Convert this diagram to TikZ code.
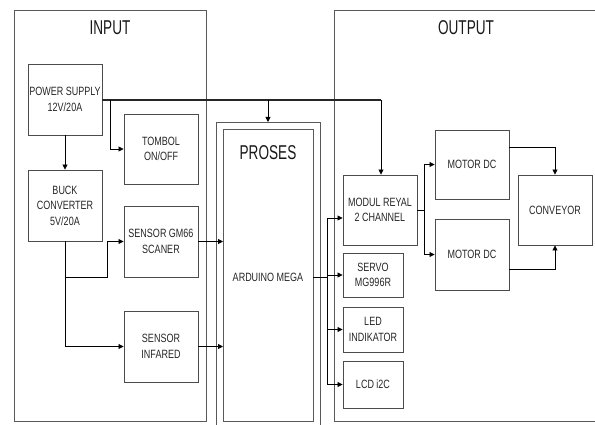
\documentclass[tikz,border=0pt]{standalone}
\usepackage{fontspec}
\setmainfont{Liberation Sans}
\newfontfamily\smallf[FakeStretch=0.75]{Liberation Sans}
\newfontfamily\titlef[FakeStretch=0.68]{Liberation Sans}
\usetikzlibrary{arrows.meta}
\begin{document}
\begin{tikzpicture}[x=1pt,y=-1pt,
  blk/.style={draw=black!70,line width=0.9pt,rectangle,inner sep=0pt,align=center,
    font=\smallf\fontsize{12}{15.5}\selectfont,text=black!85},
  frame/.style={draw=black!65,line width=0.9pt},
  ttl/.style={font=\titlef\fontsize{20}{22}\selectfont,text=black!90},
  conn/.style={draw=black,line width=0.8pt,-{Triangle[length=5pt,width=5pt]}},
  pline/.style={draw=black!85,line width=1.2pt}]
\useasboundingbox (0,0) rectangle (595,425);
% frames
\draw[frame] (14,10) rectangle (206,421);
\draw[frame] (334,10) rectangle (600,421);
\node[ttl] (tin) at (110,28) {INPUT};
\node[ttl] (tout) at (466,28) {OUTPUT};
% proses
\draw[frame] (216,432) -- (216,122) -- (320,122) -- (320,432);
\coordinate (proTop) at (268,122);
\draw[frame] (223,129) rectangle (313,421);
\node[ttl] (tpro) at (268,153) {PROSES};
\node[blk,draw=none] (ard) at (268,277) {ARDUINO MEGA};
\coordinate (ardL) at (223,277);
\coordinate (ardR) at (313,277);
% input blocks
\node[blk,minimum width=74pt,minimum height=71pt] (ps) at (65,99.5) {POWER SUPPLY\\12V/20A};
\node[blk,minimum width=74pt,minimum height=70pt] (tombol) at (161,149) {TOMBOL\\ON/OFF};
\node[blk,minimum width=74pt,minimum height=71pt] (buck) at (65,205.5) {BUCK\\CONVERTER\\5V/20A};
\node[blk,minimum width=74pt,minimum height=71pt] (gm) at (161,241.5) {SENSOR GM66\\SCANER};
\node[blk,minimum width=74pt,minimum height=71pt] (ir) at (161,346.5) {SENSOR\\INFARED};
% output blocks
\node[blk,minimum width=74pt,minimum height=70pt] (modul) at (380,210) {MODUL REYAL\\2 CHANNEL};
\node[blk,minimum width=60pt,minimum height=44pt] (servo) at (373,275) {SERVO\\MG996R};
\node[blk,minimum width=60pt,minimum height=45pt] (led) at (373,329.5) {LED\\INDIKATOR};
\node[blk,minimum width=60pt,minimum height=47pt] (lcd) at (373,384.5) {LCD i2C};
\node[blk,minimum width=74pt,minimum height=69pt] (m1) at (472,164.5) {MOTOR DC};
\node[blk,minimum width=74pt,minimum height=71pt] (m2) at (472,254.5) {MOTOR DC};
\node[blk,minimum width=74pt,minimum height=70pt] (conv) at (555,210) {CONVEYOR};
% power line
\draw[pline] (ps.east |- 0,100) -- (268,100);
\draw[pline] (268,100) -- (381,100);
\draw[conn] (381,100) -- (modul.north -| 381,0);
\draw[conn] (268,100) -- (proTop);
\draw[conn] (110,100) -- (110,149) -- (tombol.west);
\draw[conn] (ps.south) -- (buck.north);
% buck to sensors
\draw[conn] (buck.south) -- (65,346.5) -- (ir.west);
\draw[conn] (65,277) -- (107,277) -- (107,241.5) -- (gm.west);
% sensors to proses
\draw[conn] (gm.east) -- (ardL |- gm.east);
\draw[conn] (ir.east) -- (ardL |- ir.east);
% arduino bus
\draw[line width=0.8pt] (ardR) -- (327,277);
\draw[line width=0.8pt] (327,218) -- (327,384.5);
\draw[conn] (327,218) -- (modul.west |- 0,218);
\draw[conn] (327,275) -- (servo.west);
\draw[conn] (327,329.5) -- (led.west);
\draw[conn] (327,384.5) -- (lcd.west);
% modul to motors
\draw[line width=0.8pt] (modul.east |- 0,210) -- (424,210);
\draw[conn] (424,210) -- (424,164.5) -- (m1.west);
\draw[conn] (424,210) -- (424,254.5) -- (m2.west);
% motors to conveyor
\draw[conn] (m1.east |- 0,147) -- (555,147) -- (conv.north);
\draw[conn] (m2.east |- 0,269) -- (555,269) -- (conv.south);
\end{tikzpicture}
\end{document}
